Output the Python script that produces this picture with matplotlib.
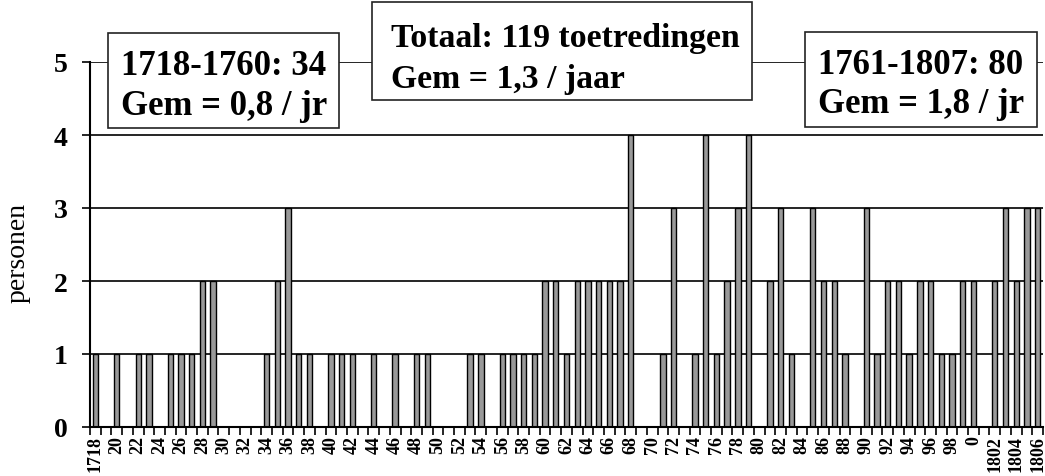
import matplotlib.pyplot as plt
from matplotlib.patches import Rectangle
import numpy as np

plt.rcParams['font.family'] = ['Liberation Serif', 'DejaVu Serif']

# toetredingen per jaar, 1718 t/m 1806
years = list(range(1718, 1807))
counts = [1, 0, 1, 0, 1, 1, 0, 1, 1, 1, 2, 2,          # 1718-1729
          0, 0, 0, 0, 1, 2, 3, 1, 1, 0,                # 1730-1739
          1, 1, 1, 0, 1, 0, 1, 0, 1, 1,                # 1740-1749
          0, 0, 0, 1, 1, 0, 1, 1, 1, 1,                # 1750-1759
          2, 2, 1, 2, 2, 2, 2, 2, 4, 0,                # 1760-1769
          0, 1, 3, 0, 1, 4, 1, 2, 3, 4,                # 1770-1779
          0, 2, 3, 1, 0, 3, 2, 2, 1, 0,                # 1780-1789
          3, 1, 2, 2, 1, 2, 2, 1, 1, 2,                # 1790-1799
          2, 0, 2, 3, 2, 3, 3]                         # 1800-1806

tick_years = years[::2]
tick_labels = []
for y in tick_years:
    if y == 1718 or y >= 1802:
        tick_labels.append(str(y))
    elif y == 1800:
        tick_labels.append('0')
    else:
        tick_labels.append(str(y % 100))

box_texts = [
    ('1718-1760: 34', 'Gem = 0,8 / jr'),
    ('Totaal: 119 toetredingen', 'Gem = 1,3 / jaar'),
    ('1761-1807: 80', 'Gem = 1,8 / jr'),
]

W, H = 1045, 477
fig = plt.figure(figsize=(W / 100, H / 100), dpi=100)
ax = fig.add_axes([90 / W, 1 - 428 / H, 953 / W, 365 / H])

x = np.arange(len(years))
ax.bar(x, counts, width=0.5, color='#999999', edgecolor='black', linewidth=1, zorder=3)

ax.set_xlim(-0.5, len(years) - 0.5)
ax.set_ylim(0, 5)
for v in range(1, 6):
    ax.axhline(v, color='black', lw=1.2, zorder=1)

ax.set_yticks(range(6))
ax.set_yticklabels([str(v) for v in range(6)], fontsize=20, fontweight='bold')
ax.tick_params(axis='y', length=6, width=1.2, pad=10)

ax.set_xticks(x[::2])
ax.set_xticklabels(tick_labels, rotation=90, fontsize=13, fontweight='bold')
ax.set_xticks(np.arange(-0.5, len(years), 1), minor=True)
ax.tick_params(axis='x', which='major', length=0, pad=5.5)
ax.tick_params(axis='x', which='minor', length=6, width=1.2)

ax.set_ylabel('personen', fontsize=20)
ax.yaxis.set_label_coords(-0.062, 0.48)

for s in ['top', 'right']:
    ax.spines[s].set_visible(False)
for s in ['left', 'bottom']:
    ax.spines[s].set_linewidth(1.5)
    ax.spines[s].set_zorder(4)

# tekstvakken (pixel-posities)
boxes = [(108, 34, 339, 129, 121, 75, 115, 25),
         (372, 3, 752, 101, 391, 47, 88, 24.3),
         (805, 33, 1037, 128, 818, 74, 113, 25)]
for (x0, y0, x1, y1, tx, b1, b2, fs), (l1, l2) in zip(boxes, box_texts):
    fig.patches.append(Rectangle((x0 / W, 1 - y1 / H), (x1 - x0) / W, (y1 - y0) / H,
                                 transform=fig.transFigure, facecolor='white',
                                 edgecolor='#222222', lw=1.2, zorder=5))
    fig.text(tx / W, 1 - b1 / H, l1, fontsize=fs, fontweight='bold', va='baseline', zorder=6)
    fig.text(tx / W, 1 - b2 / H, l2, fontsize=fs, fontweight='bold', va='baseline', zorder=6)

fig.savefig('out.png', dpi=100)
